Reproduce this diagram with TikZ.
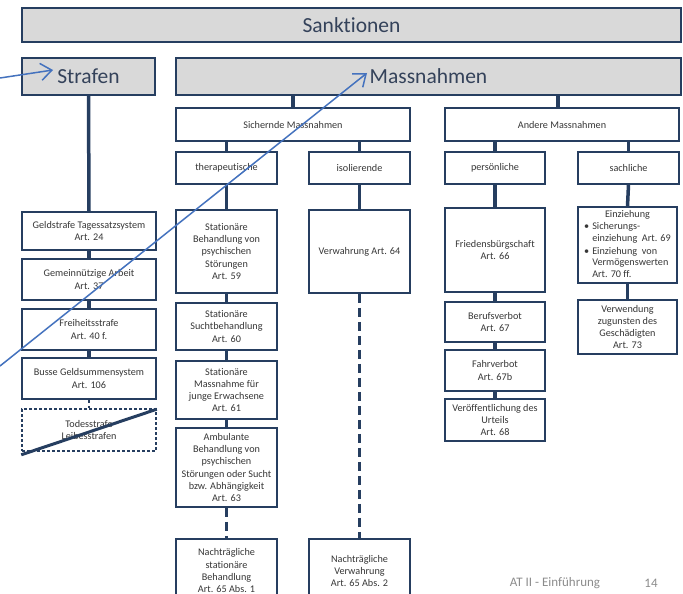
\documentclass[tikz,border=0pt]{standalone}
\usepackage{fontspec}
\setmainfont[Ligatures=NoCommon]{Carlito}
\usetikzlibrary{arrows.meta}
\definecolor{navy}{RGB}{38,62,96}
\definecolor{txt}{RGB}{55,55,55}
\definecolor{bigtxt}{RGB}{52,66,90}
\definecolor{hdrfill}{RGB}{217,217,217}
\definecolor{arrblue}{RGB}{68,114,190}
\definecolor{foot}{RGB}{140,140,140}
\tikzset{
  bx/.style={draw=navy, line width=1.6pt, fill=white, inner sep=1pt, align=center,
    font=\fontsize{10.2}{12.3}\selectfont, text=txt},
  hdr/.style={bx, fill=hdrfill, font=\fontsize{21.5}{24}\selectfont, text=bigtxt},
  conn/.style={draw=navy, line width=3.5pt},
  dconn/.style={conn, dash pattern=on 9pt off 5pt},
  blue/.style={draw=arrblue, line width=1.5pt, -{Straight Barb[length=11pt,width=17pt,line width=1.5pt]}},
  footer/.style={font=\fontsize{13}{15}\selectfont, text=foot, inner sep=0pt}
}
\begin{document}
\begin{tikzpicture}[x=1pt,y=-1pt]
\useasboundingbox (0,0) rectangle (683,594);
\clip (0,0) rectangle (683,594);
\fill[white] (0,0) rectangle (683,594);

% top level
\node[hdr, minimum width=659pt, minimum height=34pt] (sank) at (351.5,25) {Sanktionen};
\node[hdr, minimum width=133pt, minimum height=37pt] (straf) at (88.5,76.5) {Strafen};
\node[hdr, minimum width=505pt, minimum height=37pt] (mass) at (428.5,76.5) {Massnahmen};

% second level
\node[bx, minimum width=234pt, minimum height=33pt] (sich) at (293,124.5) {Sichernde Massnahmen};
\node[bx, minimum width=234pt, minimum height=33pt] (andere) at (562,124.5) {Andere Massnahmen};

\node[bx, minimum width=101pt, minimum height=32pt] (thera) at (226.5,168) {therapeutische};
\node[bx, minimum width=101pt, minimum height=32pt] (iso) at (359.5,168) {isolierende};
\node[bx, minimum width=100pt, minimum height=32pt] (pers) at (495,168) {persönliche};
\node[bx, minimum width=101pt, minimum height=32pt] (sach) at (628.5,168) {sachliche};

% Strafen column
\node[bx, minimum width=134pt, minimum height=38pt] (geld) at (89,231) {Geldstrafe Tagessatzsystem\\Art. 24};
\node[bx, minimum width=134pt, minimum height=41pt] (gemein) at (89,279.5) {Gemeinnützige Arbeit\\Art. 37};
\node[bx, minimum width=134pt, minimum height=41pt] (frei) at (89,329.5) {Freiheitsstrafe\\Art. 40 f.};
\node[bx, minimum width=134pt, minimum height=41pt] (busse) at (89,378.5) {Busse Geldsummensystem\\Art. 106};
\node[bx, dash pattern=on 3pt off 2pt, minimum width=134pt, minimum height=42pt] (todes) at (89,430) {Todesstrafe\\Leibesstrafen};

% therapeutische column
\node[bx, minimum width=101pt, minimum height=83pt] (statbeh) at (226.5,251.5) {Stationäre\\Behandlung von\\psychischen\\Störungen\\Art. 59};
\node[bx, minimum width=101pt, minimum height=47pt] (statsucht) at (226.5,326.5) {Stationäre\\Suchtbehandlung\\Art. 60};
\node[bx, minimum width=101pt, minimum height=58pt] (statmass) at (226.5,390) {Stationäre\\Massnahme für\\junge Erwachsene\\Art. 61};
\node[bx, minimum width=101pt, minimum height=79pt] (ambu) at (226.5,467.5) {Ambulante\\Behandlung von\\psychischen\\Störungen oder Sucht\\bzw. Abhängigkeit\\Art. 63};
\node[bx, minimum width=101pt, minimum height=64pt, anchor=north] (nachstat) at (226.5,538) {Nachträgliche\\stationäre\\Behandlung\\Art. 65 Abs. 1};

% isolierende column
\node[bx, minimum width=101pt, minimum height=83pt] (verw) at (359.5,251.5) {Verwahrung Art. 64};
\node[bx, minimum width=101pt, minimum height=64pt, anchor=north] (nachverw) at (359.5,538) {Nachträgliche\\Verwahrung\\Art. 65 Abs. 2};

% persönliche column
\node[bx, minimum width=100pt, minimum height=84pt] (fried) at (495,250) {Friedensbürgschaft\\Art. 66};
\node[bx, minimum width=100pt, minimum height=40pt] (beruf) at (495,322) {Berufsverbot\\Art. 67};
\node[bx, minimum width=100pt, minimum height=41pt] (fahr) at (495,370.5) {Fahrverbot\\Art. 67b};
\node[bx, minimum width=100pt, minimum height=42pt] (veroeff) at (495,420) {Veröffentlichung des\\Urteils\\Art. 68};

% sachliche column
\node[bx, minimum width=99pt, minimum height=76pt, font=\fontsize{10.2}{11.6}\selectfont] (einz) at (627.5,245) {%
\begin{tabular}{@{}l@{\hspace{3pt}}l@{}}
\multicolumn{2}{c}{Einziehung}\\[1pt]
\textbullet & Sicherungs-\\
 & einziehung\ \ Art. 69\\[1pt]
\textbullet & Einziehung\ \ von\\
 & Vermögenswerten\\
 & Art. 70 ff.
\end{tabular}};
\node[bx, minimum width=99pt, minimum height=54pt] (verwend) at (627.5,327) {Verwendung\\zugunsten des\\Geschädigten\\Art. 73};

% connectors
\draw[conn] (straf.south) -- (geld.north);
\draw[conn] (geld.south) -- (gemein.north);
\draw[conn] (gemein.south) -- (frei.north);
\draw[conn] (frei.south) -- (busse.north);
\draw[draw=navy, line width=2.5pt, dash pattern=on 3pt off 3pt] (busse.south) -- (todes.north);

\draw[conn] (sich.north) -- (sich.north |- mass.south);
\draw[conn] ([xshift=-4pt]andere.north) -- ([xshift=-4pt]andere.north |- mass.south);
\draw[conn] (thera.north) -- (thera.north |- sich.south);
\draw[conn] (iso.north) -- (iso.north |- sich.south);
\draw[conn] (pers.north) -- (pers.north |- andere.south);
\draw[conn] (sach.north) -- (sach.north |- andere.south);

\draw[conn] (thera.south) -- (statbeh.north);
\draw[conn] (statbeh.south) -- (statsucht.north);
\draw[conn] (statsucht.south) -- (statmass.north);
\draw[conn] (statmass.south) -- (ambu.north);
\draw[dconn] (ambu.south) -- (nachstat.north);

\draw[conn] (iso.south) -- (verw.north);
\draw[dconn] (verw.south) -- (nachverw.north);

\draw[conn] (pers.south) -- (fried.north);
\draw[conn] (fried.south) -- (beruf.north);
\draw[conn] (beruf.south) -- (fahr.north);
\draw[conn] (fahr.south) -- (veroeff.north);

\draw[conn] (sach.south) -- (einz.north);
\draw[conn] (einz.south) -- (verwend.north);

% strike-through of abolished penalties
\draw[navy, line width=3pt] ([yshift=-3pt]todes.south west) -- ([yshift=-1pt]todes.north east);

% blue annotation arrows
\coordinate (a1) at (0,78);
\coordinate (t1) at (53,70);
\coordinate (a2) at (0,366);
\coordinate (t2) at (367,73);
\draw[blue] (a1) -- (t1);
\draw[blue] (a2) -- (t2);

% footer
\node[footer] (ft) at (555,583) {AT II - Einführung};
\node[footer] (pg) at (651,583) {14};
\end{tikzpicture}
\end{document}
